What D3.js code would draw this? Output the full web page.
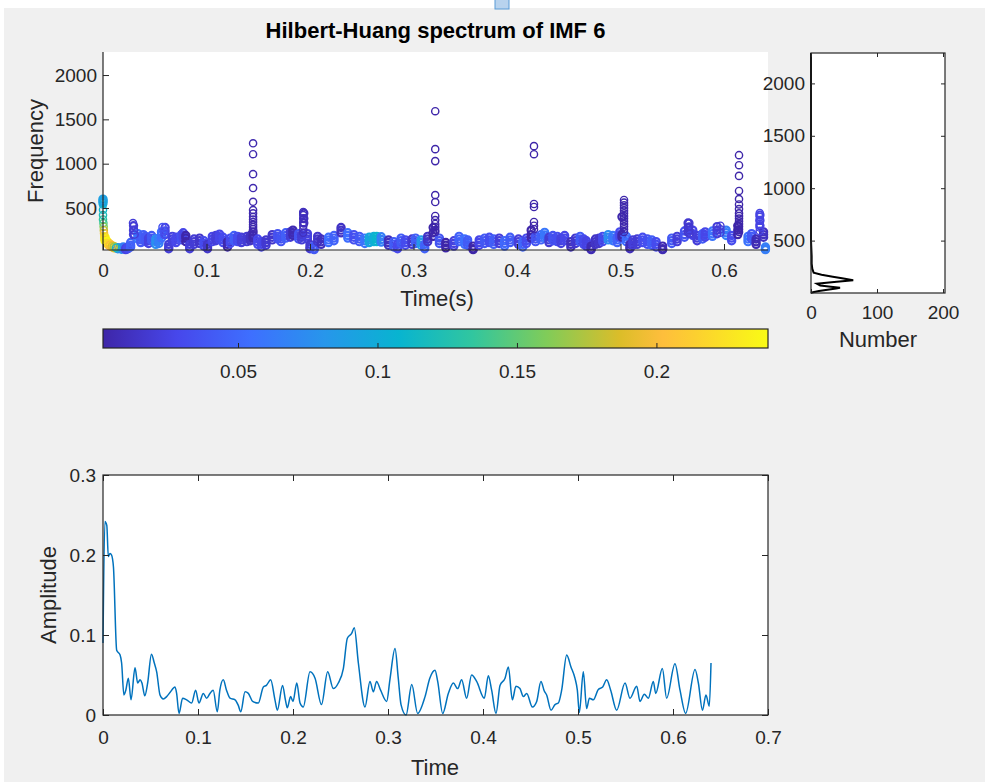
<!DOCTYPE html>
<html>
<head>
<meta charset="utf-8">
<script src="https://cdn.jsdelivr.net/npm/d3@7"></script>
<style>
body { margin: 0; background: #ffffff; }
svg { display: block; font-family: "Liberation Sans", Arial, sans-serif; }
</style>
</head>
<body>
<script>

// ---- amplitude of IMF 6 (bottom panel), also the colour of each HHT point
const ampTime = [0, 0.002, 0.004, 0.0056, 0.0074, 0.009, 0.011, 0.0144, 0.018, 0.0196,
	0.022, 0.024, 0.0267, 0.0295, 0.0337, 0.0365, 0.039, 0.041, 0.044, 0.047,
	0.051, 0.054, 0.0565, 0.060, 0.0635, 0.067, 0.0705, 0.0758, 0.0775, 0.080,
	0.0838, 0.088, 0.0933, 0.0975, 0.101, 0.1056, 0.109, 0.1126, 0.116, 0.1203,
	0.123, 0.1266, 0.130, 0.1337, 0.139, 0.1424, 0.145, 0.1495, 0.153, 0.1575,
	0.1635, 0.1688, 0.172, 0.1765, 0.181, 0.1835, 0.189, 0.192, 0.194, 0.1975,
	0.200, 0.204, 0.2074, 0.2108, 0.2179, 0.2232, 0.230, 0.2365, 0.2424, 0.2477,
	0.253, 0.2572, 0.2617, 0.2645, 0.2688, 0.2758, 0.281, 0.2846, 0.288, 0.2922,
	0.2986, 0.302, 0.3074, 0.3108, 0.3137, 0.319, 0.325, 0.3312, 0.339, 0.344,
	0.3495, 0.3523, 0.3576, 0.3635, 0.3688, 0.3733, 0.3775, 0.3828, 0.388, 0.3933,
	0.4014, 0.4056, 0.4091, 0.4137, 0.4179, 0.4232, 0.4267, 0.4309, 0.4347, 0.4389,
	0.4425, 0.446, 0.452, 0.4565, 0.461, 0.4645, 0.467, 0.4716, 0.4758, 0.4793,
	0.4828, 0.4881, 0.4926, 0.4968, 0.4993, 0.5014, 0.5056, 0.5091, 0.512, 0.5161,
	0.5214, 0.526, 0.5302, 0.5344, 0.5407, 0.5495, 0.5547, 0.5618, 0.5653, 0.5698,
	0.574, 0.5793, 0.5818, 0.5888, 0.5933, 0.6021, 0.6074, 0.6133, 0.6232, 0.6267,
	0.631, 0.6347, 0.6382, 0.640]

const ampValue = [0.090, 0.242, 0.237, 0.198, 0.202, 0.200, 0.185, 0.081, 0.075, 0.065,
	0.025, 0.031, 0.046, 0.019, 0.059, 0.040, 0.044, 0.040, 0.024, 0.040,
	0.076, 0.065, 0.054, 0.025, 0.020, 0.023, 0.028, 0.035, 0.027, 0.002,
	0.021, 0.019, 0.015, 0.031, 0.015, 0.027, 0.021, 0.027, 0.031, 0.004,
	0.031, 0.044, 0.031, 0.021, 0.019, 0.012, 0.004, 0.029, 0.027, 0.017,
	0.015, 0.035, 0.037, 0.044, 0.019, 0.006, 0.037, 0.019, 0.009, 0.023,
	0.017, 0.040, 0.015, 0.010, 0.054, 0.046, 0.013, 0.054, 0.033, 0.040,
	0.058, 0.096, 0.102, 0.109, 0.065, 0.010, 0.042, 0.029, 0.042, 0.031,
	0.017, 0.044, 0.083, 0.046, 0.013, 0.000, 0.038, 0.002, 0.023, 0.046,
	0.056, 0.042, 0.002, 0.027, 0.040, 0.033, 0.044, 0.021, 0.050, 0.042,
	0.021, 0.049, 0.031, 0.002, 0.037, 0.046, 0.060, 0.019, 0.036, 0.033,
	0.023, 0.027, 0.010, 0.017, 0.042, 0.030, 0.025, 0.006, 0.013, 0.015,
	0.031, 0.075, 0.060, 0.046, 0.031, 0.003, 0.054, 0.008, 0.021, 0.019,
	0.032, 0.035, 0.044, 0.031, 0.006, 0.040, 0.021, 0.036, 0.017, 0.026,
	0.021, 0.042, 0.027, 0.058, 0.021, 0.064, 0.031, 0.002, 0.057, 0.040,
	0.006, 0.025, 0.011, 0.065]

// instantaneous frequency at the same instants: centre, lower and upper spread of the band
const hhtFreq = [600, 150, 110, 90, 75, 65, 55, 45, 40, 50,
	35, 45, 80, 300, 180, 140, 170, 150, 130, 160,
	120, 130, 200, 280, 60, 150, 140, 170, 190, 160,
	60, 120, 130, 100, 60, 150, 160, 175, 140, 90,
	130, 160, 150, 140, 150, 160, 230, 120, 90, 110,
	170, 180, 150, 190, 200, 220, 180, 170, 440, 180,
	60, 40, 150, 120, 140, 160, 250, 190, 170, 150,
	130, 140, 150, 150, 145, 110, 90, 60, 130, 110,
	120, 130, 110, 60, 150, 280, 130, 80, 100, 150,
	120, 110, 40, 110, 130, 140, 120, 130, 100, 140,
	120, 90, 130, 250, 150, 170, 195, 140, 160, 150,
	130, 160, 90, 130, 150, 120, 100, 40, 120, 130,
	150, 170, 160, 140, 200, 400, 150, 60, 110, 120,
	140, 120, 110, 90, 40, 130, 150, 200, 330, 250,
	160, 180, 200, 210, 290, 220, 160, 300, 150, 180,
	120, 420, 200, 30]

const hhtFreqLow = [560, 130, 100, 80, 68, 60, 50, 40, 35, 45,
	30, 40, 60, 250, 150, 110, 140, 120, 100, 130,
	90, 100, 160, 240, 40, 120, 110, 140, 160, 120,
	40, 90, 100, 70, 40, 120, 130, 145, 110, 60,
	100, 130, 120, 110, 120, 130, 190, 90, 60, 80,
	140, 150, 120, 160, 170, 190, 150, 140, 380, 150,
	40, 30, 120, 90, 110, 130, 220, 160, 140, 120,
	100, 110, 120, 120, 115, 80, 60, 40, 100, 80,
	90, 100, 80, 40, 120, 220, 100, 50, 70, 120,
	90, 80, 30, 80, 100, 110, 90, 100, 70, 110,
	90, 60, 100, 200, 120, 140, 165, 110, 130, 120,
	100, 130, 60, 100, 120, 90, 70, 30, 90, 100,
	120, 140, 130, 110, 170, 200, 120, 40, 80, 90,
	110, 90, 80, 60, 30, 100, 120, 170, 280, 210,
	130, 150, 170, 180, 250, 190, 130, 250, 120, 150,
	90, 360, 170, 40]

const hhtFreqHigh = [580, 170, 125, 100, 85, 72, 62, 52, 48, 60,
	45, 60, 110, 200, 210, 170, 200, 180, 160, 190,
	150, 160, 230, 200, 90, 180, 170, 200, 220, 190,
	90, 150, 160, 130, 90, 180, 190, 205, 170, 120,
	160, 190, 180, 170, 180, 190, 160, 150, 120, 140,
	200, 210, 180, 220, 230, 250, 210, 200, 330, 210,
	90, 70, 180, 150, 170, 190, 280, 220, 200, 180,
	160, 170, 180, 180, 175, 140, 120, 90, 160, 140,
	150, 160, 140, 90, 180, 180, 160, 110, 130, 180,
	150, 140, 70, 140, 160, 170, 150, 160, 130, 170,
	150, 120, 160, 160, 180, 200, 225, 170, 190, 180,
	160, 190, 120, 160, 180, 150, 130, 70, 150, 160,
	180, 200, 190, 170, 230, 170, 180, 90, 140, 150,
	170, 150, 140, 120, 70, 160, 180, 240, 230, 190,
	190, 210, 230, 240, 210, 250, 190, 200, 180, 210,
	150, 300, 230, 60]

// extra HHT points: start-up sweep, vertical columns and high-frequency spikes
const extraTime = [0, 0, 0, 0, 0.0004, 0.0006, 0.0008, 0.001, 0.0013, 0.0016, 0.003, 0.005, 0.0065, 0.0085, 0.0105, 0.0125,
	0.029, 0.030, 0.0305,
	0.0575, 0.0585, 0.059,
	0.145, 0.145, 0.145, 0.145, 0.145, 0.145, 0.145, 0.145, 0.145, 0.145, 0.145, 0.145, 0.145,
	0.1935, 0.1935, 0.1935, 0.1935, 0.1935, 0.1935, 0.1935,
	0.321, 0.321, 0.321, 0.321, 0.321, 0.321, 0.321, 0.321, 0.321, 0.321, 0.321,
	0.4164, 0.4164, 0.4164, 0.4164, 0.4164, 0.4164, 0.4164,
	0.5034, 0.5034, 0.5034, 0.5034, 0.5034, 0.5034, 0.5034, 0.5034, 0.5034, 0.5034, 0.5034, 0.5034, 0.5034,
	0.5665, 0.5665, 0.5665, 0.5665,
	0.5965, 0.5965, 0.5965,
	0.6145, 0.6145, 0.6145, 0.6145, 0.6145, 0.6145, 0.6145, 0.6145, 0.6145, 0.6145, 0.6145, 0.6145, 0.6145, 0.6145, 0.6145,
	0.6345, 0.6345, 0.6345, 0.6345, 0.6345, 0.6345]

const extraFreq = [540, 480, 420, 370, 330, 290, 250, 215, 180, 150, 125, 100, 85, 72, 62, 52,
	330, 250, 200,
	285, 240, 200,
	1230, 1107, 882, 725, 570, 477, 440, 400, 370, 342, 310, 285, 260,
	455, 420, 380, 340, 300, 260, 220,
	1592, 1164, 1029, 646, 567, 410, 364, 320, 285, 250, 229,
	1198, 1107, 545, 511, 342, 300, 260,
	590, 560, 530, 500, 470, 440, 410, 380, 350, 320, 290, 260, 230,
	330, 290, 250, 210,
	300, 260, 220,
	1096, 983, 862, 692, 601, 540, 488, 440, 410, 380, 350, 320, 290, 260, 230,
	443, 400, 360, 320, 280, 240]

const extraAmp = [0.10, 0.11, 0.12, 0.13, 0.14, 0.16, 0.18, 0.20, 0.22, 0.23, 0.24, 0.22, 0.20, 0.19, 0.17, 0.12,
	0.02, 0.02, 0.02,
	0.035, 0.035, 0.035,
	0.004, 0.004, 0.004, 0.004, 0.004, 0.004, 0.004, 0.004, 0.004, 0.004, 0.004, 0.004, 0.004,
	0.01, 0.01, 0.01, 0.01, 0.01, 0.01, 0.01,
	0.002, 0.002, 0.002, 0.002, 0.002, 0.002, 0.002, 0.002, 0.002, 0.002, 0.002,
	0.002, 0.002, 0.002, 0.002, 0.002, 0.002, 0.002,
	0.003, 0.003, 0.003, 0.003, 0.003, 0.003, 0.003, 0.003, 0.003, 0.003, 0.003, 0.003, 0.003,
	0.017, 0.017, 0.017, 0.017,
	0.02, 0.02, 0.02,
	0.002, 0.002, 0.002, 0.002, 0.002, 0.002, 0.002, 0.002, 0.002, 0.002, 0.002, 0.002, 0.002, 0.002, 0.002,
	0.025, 0.025, 0.025, 0.025, 0.025, 0.025]

// marginal histogram of frequencies
const histFreq  = [0, 8, 20, 32, 44, 51, 60, 72, 89, 105, 121, 140, 156, 175, 194, 230, 280, 350, 500, 800, 1200, 1600, 2000, 2290]
const histCount = [0, 3, 12, 25, 38, 44, 30, 14, 9, 35, 64, 47, 33, 16, 4, 2, 1, 1, 0, 0, 0, 0, 0, 0]

// limits and ticks
const timeLimits = [0, 0.6425]
const freqLimits = [26, 2260]
const histCountLimits = [0, 203]
const histFreqLimits = [0, 2290]
const colorLimits = [0.0016, 0.24]
const ampTimeLimits = [0, 0.7]
const ampLimits = [0, 0.3]

const timeTicks = [0, 0.1, 0.2, 0.3, 0.4, 0.5, 0.6]
const freqTicks = [500, 1000, 1500, 2000]
const histTicks = [0, 100, 200]
const colorTicks = [0.05, 0.1, 0.15, 0.2]
const ampTimeTicks = [0, 0.1, 0.2, 0.3, 0.4, 0.5, 0.6, 0.7]
const ampTicks = [0, 0.1, 0.2, 0.3]

// parula
const parulaIndex = [0, 7, 14, 21, 28, 35, 42, 49, 53, 56, 63]
const parulaColors = ['#3e26a8', '#4747eb', '#3e6fff', '#2796eb', '#08b4d0', '#31c69f', '#80cc59', '#dcbd29', '#febe3c', '#fccf30', '#f9fb15']

const width = 985, height = 782
const ink = '#262626'
const tickFont = 19
const labelFont = 22

const svg = d3.select('body')
.append('svg')
.attr('width', width)
.attr('height', height)

svg.append('rect')
.attr('x', 4).attr('y', 8)
.attr('width', width - 4).attr('height', height - 8)
.attr('fill', '#f0f0f0')

// little stray widget at the top of the figure window
svg.append('rect')
.attr('x', 495).attr('y', -2)
.attr('width', 14).attr('height', 11)
.attr('fill', '#b8d3ee')
.attr('stroke', '#5a9bd6')

const parula = d3.scaleLinear()
.domain(parulaIndex.map(i => colorLimits[0] + (colorLimits[1] - colorLimits[0]) * i / 63))
.range(parulaColors)
.clamp(true)

const styleAxis = g => {
	g.attr('font-size', tickFont)
	.attr('font-family', '"Liberation Sans", Arial, sans-serif')
	g.select('.domain').remove()
	g.selectAll('.tick line').attr('stroke', ink).attr('stroke-width', 1)
	g.selectAll('.tick text').attr('fill', ink)
}

//_____________HHT SCATTER________________

const sx = d3.scaleLinear().domain(timeLimits).range([103, 768])
const sy = d3.scaleLinear().domain(freqLimits).range([250, 52])

svg.append('rect')
.attr('x', 103).attr('y', 52)
.attr('width', 665).attr('height', 198)
.attr('fill', '#ffffff')

// band points are packed so tightly they read as a solid ribbon
const points = []
ampTime.forEach((t, i) => {
	points.push({t: t, f: hhtFreqLow[i], a: ampValue[i], band: true})
	points.push({t: t, f: hhtFreqHigh[i], a: ampValue[i], band: true})
	points.push({t: t, f: hhtFreq[i], a: ampValue[i], band: true})
})
extraTime.forEach((t, i) => points.push({t: t, f: extraFreq[i], a: extraAmp[i], band: false}))

svg.append('g')
.selectAll('circle')
.data(points.filter(d => d.t <= timeLimits[1]))
.enter()
.append('circle')
.attr('cx', d => sx(d.t))
.attr('cy', d => sy(d.f))
.attr('r', 3.6)
.attr('fill', 'none')
.attr('stroke', d => parula(d.a))
.attr('stroke-width', d => d.band ? 2.2 : 1.4)

svg.append('g')
.attr('transform', 'translate(0,250)')
.call(d3.axisBottom(sx).tickValues(timeTicks).tickSize(-6).tickPadding(14).tickFormat(d => String(d)))
.call(styleAxis)

svg.append('g')
.attr('transform', 'translate(103,0)')
.call(d3.axisLeft(sy).tickValues(freqTicks).tickSize(-6).tickPadding(6).tickFormat(d => String(d)))
.call(styleAxis)

svg.append('path')
.attr('d', 'M103,52V250H768')
.attr('fill', 'none')
.attr('stroke', ink)
.attr('stroke-width', 1.2)

svg.append('text')
.attr('x', 435.5).attr('y', 38)
.attr('text-anchor', 'middle')
.attr('font-weight', 'bold')
.attr('font-size', 22)
.attr('fill', '#000')
.text('Hilbert-Huang spectrum of IMF 6')

svg.append('text')
.attr('x', 437).attr('y', 306)
.attr('text-anchor', 'middle')
.attr('font-size', labelFont)
.attr('fill', ink)
.text('Time(s)')

svg.append('text')
.attr('transform', 'translate(43,151) rotate(-90)')
.attr('text-anchor', 'middle')
.attr('font-size', labelFont)
.attr('fill', ink)
.text('Frequency')

//_____________HISTOGRAM________________

const hx = d3.scaleLinear().domain(histCountLimits).range([811, 945])
const hy = d3.scaleLinear().domain(histFreqLimits).range([293, 53])

svg.append('rect')
.attr('x', 811).attr('y', 53)
.attr('width', 134).attr('height', 240)
.attr('fill', '#ffffff')

svg.append('path')
.datum(histFreq.map((f, i) => ({f: f, n: histCount[i]})))
.attr('d', d3.line().x(d => hx(d.n)).y(d => hy(d.f)))
.attr('fill', 'none')
.attr('stroke', '#000')
.attr('stroke-width', 2)

svg.append('g')
.attr('transform', 'translate(811,0)')
.call(d3.axisLeft(hy).tickValues(freqTicks).tickSize(-4).tickPadding(6).tickFormat(d => String(d)))
.call(styleAxis)

svg.append('g')
.attr('transform', 'translate(945,0)')
.call(d3.axisRight(hy).tickValues(freqTicks).tickSize(-4).tickFormat(''))
.call(styleAxis)

svg.append('g')
.attr('transform', 'translate(0,293)')
.call(d3.axisBottom(hx).tickValues(histTicks).tickSize(-4).tickPadding(13).tickFormat(d => String(d)))
.call(styleAxis)

svg.append('g')
.attr('transform', 'translate(0,53)')
.call(d3.axisTop(hx).tickValues(histTicks).tickSize(-4).tickFormat(''))
.call(styleAxis)

svg.append('rect')
.attr('x', 811).attr('y', 53)
.attr('width', 134).attr('height', 240)
.attr('fill', 'none')
.attr('stroke', ink)
.attr('stroke-width', 1.2)

svg.append('text')
.attr('x', 878).attr('y', 347)
.attr('text-anchor', 'middle')
.attr('font-size', labelFont)
.attr('fill', ink)
.text('Number')

//_____________COLORBAR________________

const cx = d3.scaleLinear().domain(colorLimits).range([103, 768])

const grad = svg.append('defs')
.append('linearGradient')
.attr('id', 'parula-grad')
.attr('x1', '0%').attr('x2', '100%')
.attr('y1', '0%').attr('y2', '0%')

grad.selectAll('stop')
.data(parulaIndex)
.enter()
.append('stop')
.attr('offset', d => (d / 63 * 100) + '%')
.attr('stop-color', (d, i) => parulaColors[i])

svg.append('rect')
.attr('x', 103).attr('y', 329)
.attr('width', 665).attr('height', 19)
.attr('fill', 'url(#parula-grad)')

svg.append('g')
.attr('transform', 'translate(0,348)')
.call(d3.axisBottom(cx).tickValues(colorTicks).tickSize(-5).tickPadding(17).tickFormat(d => String(d)))
.call(styleAxis)

svg.append('rect')
.attr('x', 103).attr('y', 329)
.attr('width', 665).attr('height', 19)
.attr('fill', 'none')
.attr('stroke', ink)
.attr('stroke-width', 1.2)

//_____________AMPLITUDE________________

const bx = d3.scaleLinear().domain(ampTimeLimits).range([103, 768])
const by = d3.scaleLinear().domain(ampLimits).range([715, 475])

svg.append('rect')
.attr('x', 103).attr('y', 475)
.attr('width', 665).attr('height', 240)
.attr('fill', '#ffffff')

svg.append('path')
.datum(ampTime.map((t, i) => ({t: t, a: ampValue[i]})))
.attr('d', d3.line().curve(d3.curveMonotoneX).x(d => bx(d.t)).y(d => by(d.a)))
.attr('fill', 'none')
.attr('stroke', '#0072bd')
.attr('stroke-width', 1.5)

svg.append('g')
.attr('transform', 'translate(0,715)')
.call(d3.axisBottom(bx).tickValues(ampTimeTicks).tickSize(-6).tickPadding(16).tickFormat(d => String(d)))
.call(styleAxis)

svg.append('g')
.attr('transform', 'translate(0,475)')
.call(d3.axisTop(bx).tickValues(ampTimeTicks).tickSize(-6).tickFormat(''))
.call(styleAxis)

svg.append('g')
.attr('transform', 'translate(103,0)')
.call(d3.axisLeft(by).tickValues(ampTicks).tickSize(-6).tickPadding(7).tickFormat(d => String(d)))
.call(styleAxis)

svg.append('g')
.attr('transform', 'translate(768,0)')
.call(d3.axisRight(by).tickValues(ampTicks).tickSize(-6).tickFormat(''))
.call(styleAxis)

svg.append('rect')
.attr('x', 103).attr('y', 475)
.attr('width', 665).attr('height', 240)
.attr('fill', 'none')
.attr('stroke', ink)
.attr('stroke-width', 1.2)

svg.append('text')
.attr('x', 435).attr('y', 775)
.attr('text-anchor', 'middle')
.attr('font-size', labelFont)
.attr('fill', ink)
.text('Time')

svg.append('text')
.attr('transform', 'translate(56,595) rotate(-90)')
.attr('text-anchor', 'middle')
.attr('font-size', labelFont)
.attr('fill', ink)
.text('Amplitude')

</script>
</body>
</html>
